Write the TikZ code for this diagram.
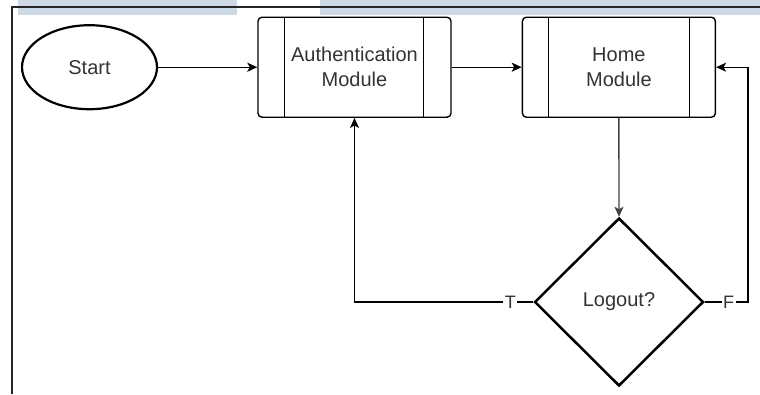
\documentclass[tikz,border=0pt]{standalone}
\usepackage{fontspec}
\setmainfont{Liberation Sans}
\usetikzlibrary{shapes.geometric,arrows.meta}
\definecolor{barblue}{HTML}{CDD9E5}
\definecolor{txt}{HTML}{333333}
\begin{document}
\begin{tikzpicture}[x=1pt,y=-1pt,
  font=\fontsize{20}{25}\selectfont, text=txt,
  proc/.style={draw=black, line width=1.4pt, rounded corners=4pt, minimum width=193pt, minimum height=100pt, inner sep=0pt, align=center},
  innerline/.style={draw=black, line width=1.3pt},
  arr/.style={draw=black, line width=1.4pt, -{Stealth[length=10pt,width=9pt,inset=2.5pt]}},
  lab/.style={fill=white, inner sep=1.5pt, font=\fontsize{18}{20}\selectfont}]
\useasboundingbox (0,0) rectangle (760,394);
\fill[barblue] (18,0) rectangle (237,15);
\fill[barblue] (320,0) rectangle (760,15);
\draw[line width=1.4pt, draw=black!85] (760,7) -- (12,7) -- (12,394);

\node[ellipse, draw=black, line width=2.2pt, minimum width=135pt, minimum height=84pt, inner sep=0pt] (start) at (89.5,67.2) {Start};
\node[proc] (auth) at (354.5,67.2) {Authentication\\Module};
\node[proc] (home) at (618.9,67.2) {Home\\Module};
\draw[innerline] ([xshift=27pt]auth.north west) -- ([xshift=27pt]auth.south west);
\draw[innerline] ([xshift=-28pt]auth.north east) -- ([xshift=-28pt]auth.south east);
\draw[innerline] ([xshift=27pt]home.north west) -- ([xshift=27pt]home.south west);
\draw[innerline] ([xshift=-26.4pt]home.north east) -- ([xshift=-26.4pt]home.south east);

\node[diamond, draw=black, line width=2.5pt, minimum width=169pt, minimum height=168pt, inner sep=0pt] (dec) at (619,302) {Logout?};
\coordinate (fc) at (748,302);

\draw[arr] (start.east) -- (auth.west);
\draw[arr] (auth.east) -- (home.west);
\draw[arr, draw=black!75] (home.south) -- (dec.north);
\draw[arr] (dec.west) -| node[lab, pos=0.064]{T} (auth.south);
\draw[arr] (dec.east) -- node[lab, pos=0.55]{F} (fc) |- (home.east);
\end{tikzpicture}
\end{document}
